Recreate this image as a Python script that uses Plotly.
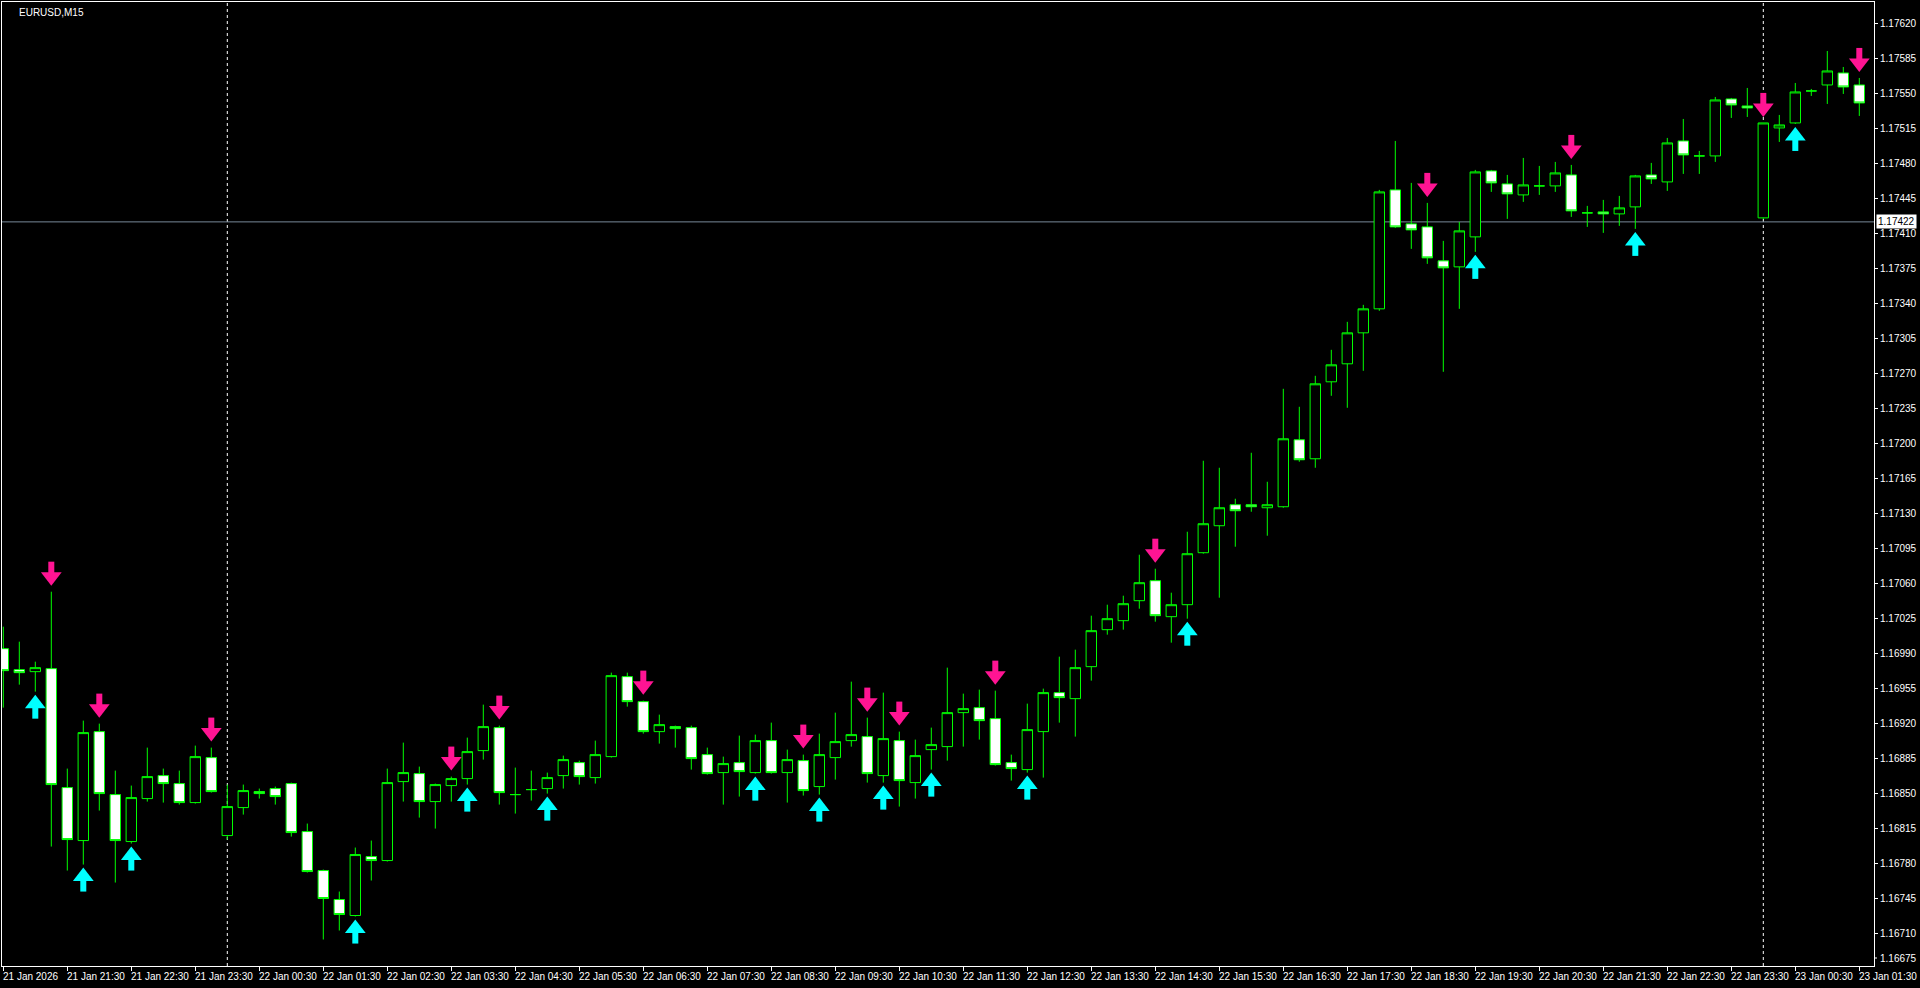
import pandas as pd
import plotly.graph_objects as go

# ---------------- data ----------------
symbol_title = "EURUSD,M15"
first_bar_time = "2026-01-21 20:30"

open_ = [
    1.16995, 1.16974, 1.16972, 1.16975, 1.16856, 1.16803, 1.16912, 1.16849, 1.16802, 1.16845,
    1.16868, 1.16860, 1.16841, 1.16886, 1.16808, 1.16836, 1.16852, 1.16855, 1.16860, 1.16812,
    1.16773, 1.16744, 1.16728, 1.16787, 1.16783, 1.16862, 1.16870, 1.16842, 1.16858, 1.16865,
    1.16893, 1.16916, 1.16849, 1.16854, 1.16855, 1.16868, 1.16881, 1.16866, 1.16887, 1.16967,
    1.16942, 1.16912, 1.16917, 1.16916, 1.16889, 1.16871, 1.16881, 1.16871, 1.16903, 1.16871,
    1.16883, 1.16857, 1.16886, 1.16903, 1.16907, 1.16868, 1.16903, 1.16861, 1.16894, 1.16897,
    1.16931, 1.16936, 1.16925, 1.16881, 1.16874, 1.16912, 1.16951, 1.16945, 1.16977, 1.17014,
    1.17023, 1.17043, 1.17063, 1.17027, 1.17039, 1.17091, 1.17118, 1.17139, 1.17139, 1.17136,
    1.17137, 1.17204, 1.17185, 1.17262, 1.17280, 1.17311, 1.17335, 1.17454, 1.17420, 1.17417,
    1.17383, 1.17377, 1.17407, 1.17473, 1.17460, 1.17449, 1.17458, 1.17458, 1.17469, 1.17431,
    1.17432, 1.17430, 1.17437, 1.17469, 1.17462, 1.17503, 1.17488, 1.17488, 1.17545, 1.17538,
    1.17426, 1.17516, 1.17521, 1.17553, 1.17559, 1.17571, 1.17559,
]
high = [
    1.17017, 1.17002, 1.16982, 1.17052, 1.16875, 1.16923, 1.16920, 1.16873, 1.16858, 1.16896,
    1.16875, 1.16873, 1.16898, 1.16896, 1.16859, 1.16859, 1.16855, 1.16857, 1.16861, 1.16820,
    1.16774, 1.16752, 1.16796, 1.16803, 1.16875, 1.16901, 1.16877, 1.16860, 1.16867, 1.16906,
    1.16939, 1.16918, 1.16876, 1.16873, 1.16871, 1.16888, 1.16883, 1.16903, 1.16971, 1.16971,
    1.16943, 1.16929, 1.16918, 1.16918, 1.16896, 1.16887, 1.16908, 1.16909, 1.16921, 1.16894,
    1.16889, 1.16910, 1.16931, 1.16962, 1.16926, 1.16951, 1.16912, 1.16904, 1.16916, 1.16976,
    1.16950, 1.16954, 1.16953, 1.16889, 1.16940, 1.16955, 1.16987, 1.16994, 1.17028, 1.17039,
    1.17048, 1.17089, 1.17075, 1.17051, 1.17112, 1.17183, 1.17176, 1.17145, 1.17191, 1.17162,
    1.17255, 1.17237, 1.17268, 1.17294, 1.17322, 1.17339, 1.17454, 1.17503, 1.17461, 1.17441,
    1.17403, 1.17422, 1.17474, 1.17474, 1.17469, 1.17486, 1.17478, 1.17482, 1.17479, 1.17438,
    1.17444, 1.17448, 1.17469, 1.17481, 1.17506, 1.17525, 1.17493, 1.17547, 1.17546, 1.17556,
    1.17521, 1.17529, 1.17561, 1.17555, 1.17593, 1.17577, 1.17566,
]
low = [
    1.16936, 1.16959, 1.16952, 1.16797, 1.16773, 1.16779, 1.16833, 1.16761, 1.16800, 1.16842,
    1.16841, 1.16839, 1.16840, 1.16851, 1.16804, 1.16829, 1.16845, 1.16839, 1.16807, 1.16771,
    1.16704, 1.16713, 1.16727, 1.16763, 1.16782, 1.16842, 1.16826, 1.16815, 1.16842, 1.16859,
    1.16884, 1.16839, 1.16830, 1.16843, 1.16850, 1.16855, 1.16859, 1.16860, 1.16886, 1.16937,
    1.16910, 1.16900, 1.16896, 1.16874, 1.16869, 1.16839, 1.16847, 1.16870, 1.16870, 1.16841,
    1.16848, 1.16849, 1.16864, 1.16897, 1.16861, 1.16861, 1.16837, 1.16845, 1.16874, 1.16883,
    1.16897, 1.16904, 1.16878, 1.16863, 1.16871, 1.16866, 1.16921, 1.16907, 1.16963, 1.17009,
    1.17014, 1.17035, 1.17022, 1.17001, 1.17025, 1.17090, 1.17046, 1.17097, 1.17132, 1.17108,
    1.17136, 1.17182, 1.17176, 1.17248, 1.17236, 1.17273, 1.17333, 1.17416, 1.17395, 1.17380,
    1.17272, 1.17335, 1.17392, 1.17452, 1.17425, 1.17442, 1.17449, 1.17452, 1.17427, 1.17417,
    1.17411, 1.17418, 1.17415, 1.17460, 1.17453, 1.17470, 1.17470, 1.17482, 1.17526, 1.17527,
    1.17425, 1.17502, 1.17520, 1.17548, 1.17540, 1.17550, 1.17528,
]
close = [
    1.16973, 1.16971, 1.16976, 1.16859, 1.16804, 1.16911, 1.16850, 1.16803, 1.16846, 1.16867,
    1.16860, 1.16841, 1.16887, 1.16852, 1.16837, 1.16853, 1.16850, 1.16847, 1.16811, 1.16772,
    1.16745, 1.16729, 1.16789, 1.16783, 1.16861, 1.16871, 1.16842, 1.16859, 1.16865, 1.16892,
    1.16917, 1.16851, 1.16849, 1.16854, 1.16866, 1.16884, 1.16867, 1.16889, 1.16968, 1.16942,
    1.16912, 1.16919, 1.16915, 1.16885, 1.16870, 1.16880, 1.16872, 1.16903, 1.16871, 1.16884,
    1.16853, 1.16889, 1.16902, 1.16909, 1.16870, 1.16905, 1.16863, 1.16888, 1.16899, 1.16931,
    1.16935, 1.16923, 1.16879, 1.16875, 1.16914, 1.16951, 1.16946, 1.16976, 1.17013, 1.17025,
    1.17040, 1.17061, 1.17028, 1.17039, 1.17090, 1.17120, 1.17136, 1.17133, 1.17137, 1.17139,
    1.17205, 1.17184, 1.17260, 1.17279, 1.17311, 1.17335, 1.17452, 1.17417, 1.17414, 1.17386,
    1.17376, 1.17413, 1.17472, 1.17461, 1.17450, 1.17459, 1.17458, 1.17471, 1.17433, 1.17431,
    1.17430, 1.17436, 1.17468, 1.17465, 1.17501, 1.17489, 1.17488, 1.17544, 1.17539, 1.17536,
    1.17521, 1.17519, 1.17552, 1.17553, 1.17573, 1.17557, 1.17541,
]

# indicator signals (bar indices)
sell_signal_bars = [3, 6, 13, 28, 31, 40, 50, 54, 56, 62, 72, 89, 98, 110, 116]
buy_signal_bars = [2, 5, 8, 22, 29, 34, 47, 51, 55, 58, 64, 74, 92, 102, 112]

price_line = 1.17422
price_ticks = [round(1.16710 + 0.00035 * k, 5) for k in range(27)]
bottom_price_label = "1.16675"

# ---------------- layout constants ----------------
W, H = 1920, 988
ML, MR, MT, MB = 2, 46, 2, 22
PLOT_H = H - MT - MB
PLOT_W = W - ML - MR
BAR_PX = 16.0
x_range = [(2 - 3.3) / BAR_PX, (2 - 3.3) / BAR_PX + PLOT_W / BAR_PX]
y_range = [1.166775, 1.17642]
PPX = (y_range[1] - y_range[0]) / PLOT_H   # price per pixel

GREEN = "#00FF00"
PINK = "#FF1493"
CYAN = "#00FFFF"
FONT = "Liberation Sans"

n = len(close)
x = list(range(n))
times = pd.date_range(first_bar_time, periods=n, freq="15min")

fig = go.Figure()

fig.add_trace(go.Candlestick(
    x=x, open=open_, high=high, low=low, close=close,
    increasing=dict(line=dict(color=GREEN, width=1), fillcolor="#000000"),
    decreasing=dict(line=dict(color=GREEN, width=1), fillcolor="#FFFFFF"),
    whiskerwidth=0, hoverinfo="skip", showlegend=False,
))

# sell arrows (above highs)
sx = sell_signal_bars
fig.add_trace(go.Scatter(
    x=sx, y=[high[i] + 24 * PPX for i in sx], mode="markers", hoverinfo="skip",
    marker=dict(symbol="line-ns", size=8.6, line=dict(color=PINK, width=6)), showlegend=False))
fig.add_trace(go.Scatter(
    x=sx, y=[high[i] + 15 * PPX for i in sx], mode="markers", hoverinfo="skip",
    marker=dict(symbol="triangle-down", size=18, color=PINK, line=dict(width=0)), showlegend=False))

# buy arrows (below lows)
bx = buy_signal_bars
fig.add_trace(go.Scatter(
    x=bx, y=[low[i] - 21 * PPX for i in bx], mode="markers", hoverinfo="skip",
    marker=dict(symbol="line-ns", size=8.6, line=dict(color=CYAN, width=6)), showlegend=False))
fig.add_trace(go.Scatter(
    x=bx, y=[low[i] - 12 * PPX for i in bx], mode="markers", hoverinfo="skip",
    marker=dict(symbol="triangle-up", size=18, color=CYAN, line=dict(width=0)), showlegend=False))

shapes = []
# day separators (behind the candles)
for i, t in enumerate(times):
    if t.hour == 0 and t.minute == 0:
        shapes.append(dict(type="line", xref="x", yref="paper", x0=i, x1=i, y0=0, y1=1,
                           line=dict(color="#FFFFFF", width=1, dash="3px,3px"), layer="below"))
# price line
shapes.append(dict(type="line", xref="paper", yref="y", x0=0, x1=1, y0=price_line, y1=price_line,
                   line=dict(color="#778899", width=1), layer="below"))
# small tick for bottom price label
shapes.append(dict(type="line", xref="paper", yref="paper", x0=1, x1=1 + 3 / PLOT_W,
                   y0=8 / PLOT_H, y1=8 / PLOT_H, line=dict(color="#FFFFFF", width=1)))

annotations = []
tick_idx = list(range(0, n, 4))
for k, i in enumerate(tick_idx):
    t = times[i]
    label = t.strftime("%d %b %Y") if k == 0 else t.strftime("%d %b %H:%M")
    annotations.append(dict(x=i, xref="x", y=0, yref="paper", text=label, showarrow=False,
                            xanchor="left", yanchor="top", xshift=-2, yshift=-3,
                            font=dict(family=FONT, size=10, color="#FFFFFF")))
annotations.append(dict(x=0, xref="paper", y=1, yref="paper", text=symbol_title, showarrow=False,
                        xanchor="left", yanchor="top", xshift=15, yshift=-3,
                        font=dict(family=FONT, size=10, color="#FFFFFF")))
annotations.append(dict(x=1, xref="paper", y=price_line, yref="y", text=f"{price_line:.5f}",
                        showarrow=False, xanchor="left", yanchor="middle", xshift=2,
                        bgcolor="#FFFFFF", borderpad=1,
                        font=dict(family=FONT, size=10, color="#000000")))
annotations.append(dict(x=1, xref="paper", y=8 / PLOT_H, yref="paper", text=bottom_price_label,
                        showarrow=False, xanchor="left", yanchor="middle", xshift=4,
                        font=dict(family=FONT, size=10, color="#FFFFFF")))

fig.update_layout(
    width=W, height=H, margin=dict(l=ML, r=MR, t=MT, b=MB, pad=0),
    paper_bgcolor="#000000", plot_bgcolor="#000000",
    boxgap=0.35, boxgroupgap=0,
    showlegend=False, hovermode=False,
    shapes=shapes, annotations=annotations,
    xaxis=dict(range=x_range, showgrid=False, zeroline=False, showline=True, linecolor="#FFFFFF",
               linewidth=1, mirror=True, ticks="outside", ticklen=4, tickcolor="#FFFFFF",
               tickvals=tick_idx, showticklabels=False, rangeslider=dict(visible=False),
               fixedrange=True),
    yaxis=dict(range=y_range, side="right", showgrid=False, zeroline=False, showline=True,
               linecolor="#FFFFFF", linewidth=1, mirror=True, ticks="outside", ticklen=3,
               tickcolor="#FFFFFF", tickvals=price_ticks,
               ticktext=[f"{v:.5f}" for v in price_ticks],
               tickfont=dict(family=FONT, size=10, color="#FFFFFF"), fixedrange=True),
)

fig.write_html("out.html", config={"displayModeBar": False},
               post_script="document.body.style.margin='0';document.body.style.overflow='hidden';")
